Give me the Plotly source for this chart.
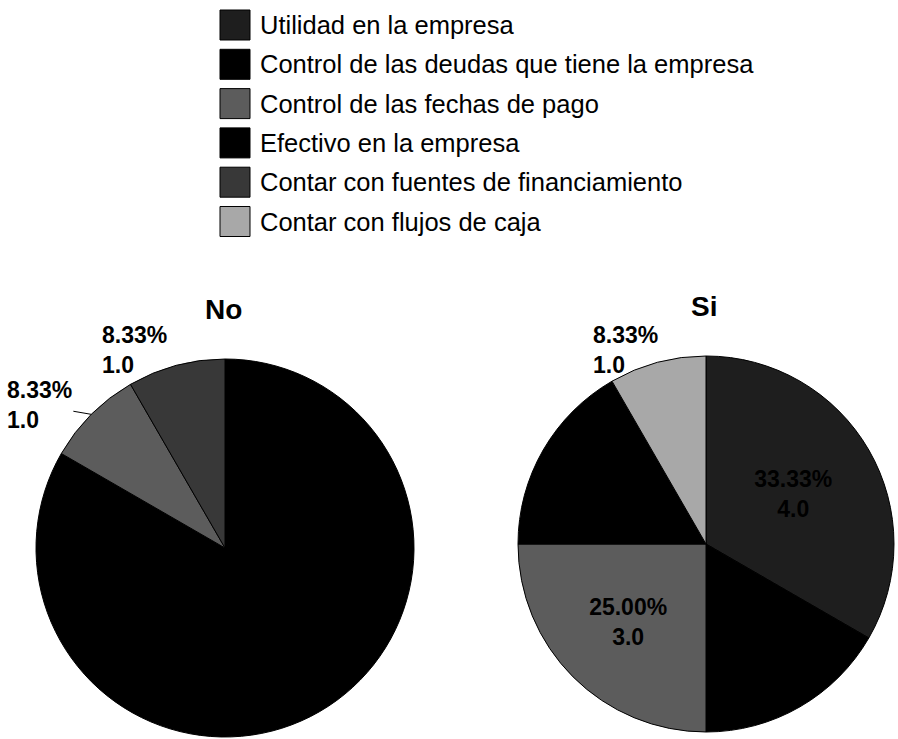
import math
import plotly.graph_objects as go

# ---- data -------------------------------------------------------------
categories = [
    "Utilidad en la empresa",
    "Control de las deudas que tiene la empresa",
    "Control de las fechas de pago",
    "Efectivo en la empresa",
    "Contar con fuentes de financiamiento",
    "Contar con flujos de caja",
]
group_titles = ["No", "Si"]
no_values = [0, 10, 1, 0, 1, 0]
si_values = [4, 2, 3, 2, 0, 1]

# ---- style ------------------------------------------------------------
colors = ["#1e1e1e", "#000000", "#5c5c5c", "#000000", "#383838", "#a8a8a8"]
FONT = "Liberation Sans, Arial, sans-serif"
W, H = 898, 739

# pie placement in pixels (centre, radius)
pie_geom = [dict(cx=225, cy=548, r=189), dict(cx=706, cy=544, r=188)]
# pixel offset of outside label boxes from their slice edge point, and leader flag
outside_offsets = {(0, 4): (-42, -15, False), (0, 2): (-52, -9, True), (1, 5): (-32, -12, True)}
SMALL_SHARE = 0.1

fig = go.Figure()
annotations = []


def px_to_paper(x, y):
    return x / W, 1 - y / H


for k, (title, values) in enumerate(zip(group_titles, [no_values, si_values])):
    g = pie_geom[k]
    idx = [i for i, v in enumerate(values) if v > 0]
    labs = [categories[i] for i in idx]
    vals = [values[i] for i in idx]
    cols = [colors[i] for i in idx]
    total = sum(vals)
    positions = ["none" if v / total < SMALL_SHARE else "inside" for v in vals]

    x0, y1 = px_to_paper(g["cx"] - g["r"], g["cy"] - g["r"])
    x1, y0 = px_to_paper(g["cx"] + g["r"], g["cy"] + g["r"])
    fig.add_trace(go.Pie(
        labels=labs, values=vals, sort=False, direction="clockwise", rotation=0,
        marker=dict(colors=cols, line=dict(color="#000000", width=1)),
        texttemplate="<b>%{percent:.2%}<br>%{value:.1f}</b>",
        textposition=positions, insidetextorientation="horizontal",
        textfont=dict(family=FONT, size=23, color="#000000"),
        domain=dict(x=[x0, x1], y=[y0, y1]),
        showlegend=False, hoverinfo="label+value+percent",
    ))

    # pie title, centred over the 12 o'clock edge
    tx, ty = px_to_paper(g["cx"] - 2, g["cy"] - g["r"] - 50)
    annotations.append(dict(
        x=tx, y=ty, xref="paper", yref="paper", xanchor="center", yanchor="middle",
        showarrow=False, text=f"<b>{title}</b>",
        font=dict(family=FONT, size=28, color="#000000"),
    ))

    # outside labels (with leader lines) for the small slices
    cum = 0
    for i, v in zip(idx, vals):
        mid = (cum + v / 2) / total * 2 * math.pi
        cum += v
        if v / total >= SMALL_SHARE:
            continue
        ex = g["cx"] + g["r"] * math.sin(mid)
        ey = g["cy"] - g["r"] * math.cos(mid)
        px, py = px_to_paper(ex, ey)
        dx, dy, leader = outside_offsets.get((k, i), (-40, -12, True))
        annotations.append(dict(
            x=px, y=py, xref="paper", yref="paper",
            ax=dx, ay=dy, showarrow=True, arrowhead=0,
            arrowwidth=1 if leader else 0.1,
            arrowcolor="#000000" if leader else "rgba(0,0,0,0)", align="left",
            text=f"<b>{v / total * 100:.2f}%<br>{v:.1f}</b>",
            font=dict(family=FONT, size=23, color="#000000"),
        ))

# ---- legend (drawn as swatches + labels) -----------------------------
shapes = []
LEG_X0, LEG_X1, LEG_TEXT_X = 220, 250, 258
LEG_Y0, LEG_STEP, SW_HALF = 25, 39.3, 15
for i, (name, col) in enumerate(zip(categories, colors)):
    cy = LEG_Y0 + i * LEG_STEP
    ax0, ay0 = px_to_paper(LEG_X0, cy + SW_HALF)
    ax1, ay1 = px_to_paper(LEG_X1, cy - SW_HALF)
    shapes.append(dict(
        type="rect", xref="paper", yref="paper", x0=ax0, x1=ax1, y0=ay0, y1=ay1,
        fillcolor=col, line=dict(color="#000000", width=1),
    ))
    lx, ly = px_to_paper(LEG_TEXT_X, cy)
    annotations.append(dict(
        x=lx, y=ly, xref="paper", yref="paper", xanchor="left", yanchor="middle",
        showarrow=False, text=name, font=dict(family=FONT, size=25.5, color="#000000"),
    ))

fig.update_layout(
    width=W, height=H, margin=dict(l=0, r=0, t=0, b=0),
    paper_bgcolor="#ffffff", plot_bgcolor="#ffffff",
    annotations=annotations, shapes=shapes,
)

fig.write_html("out.html")
